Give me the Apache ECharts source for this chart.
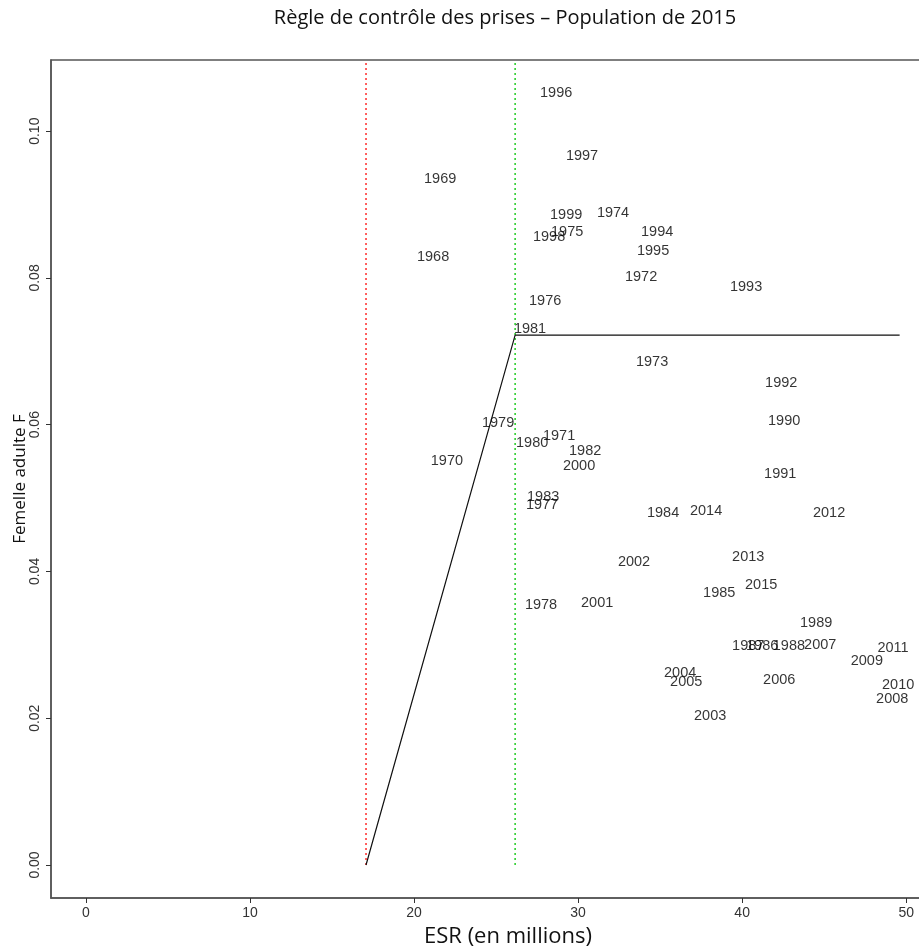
<!DOCTYPE html>
<html>
<head>
<meta charset="UTF-8">
<title>Règle de contrôle des prises</title>
<script src="https://cdn.jsdelivr.net/npm/echarts@6/dist/echarts.min.js"></script>
<style>
  html, body { margin: 0; padding: 0; background: #fff; }
  #chart { width: 919px; height: 947px; }
</style>
</head>
<body>
<div id="chart"></div>
<script>
// years, ESR (millions) and adult female F
var years = ['1968','1969','1970','1971','1972','1973','1974','1975','1976','1977',
             '1978','1979','1980','1981','1982','1983','1984','1985','1986','1987',
             '1988','1989','1990','1991','1992','1993','1994','1995','1996','1997',
             '1998','1999','2000','2001','2002','2003','2004','2005','2006','2007',
             '2008','2009','2010','2011','2012','2013','2014','2015'];
var esr = [21.16, 21.59, 22.0, 28.84, 33.84, 34.51, 32.13, 29.33, 27.99, 27.8,
           27.74, 25.12, 27.2, 27.07, 30.43, 27.87, 35.18, 38.6, 41.22, 40.37,
           42.85, 44.51, 42.56, 42.32, 42.38, 40.24, 34.82, 34.57, 28.66, 30.24,
           28.23, 29.27, 30.06, 31.16, 33.41, 38.05, 36.22, 36.59, 42.26, 44.76,
           49.15, 47.6, 49.51, 49.2, 45.3, 40.37, 37.8, 41.16];
var fAdult = [0.0828, 0.0935, 0.0550, 0.0584, 0.0801, 0.0685, 0.0888, 0.0863, 0.0768, 0.0490,
              0.0354, 0.0602, 0.0575, 0.0730, 0.0564, 0.0501, 0.0480, 0.0371, 0.0298, 0.0298,
              0.0298, 0.0330, 0.0605, 0.0533, 0.0657, 0.0787, 0.0862, 0.0837, 0.1052, 0.0966,
              0.0856, 0.0886, 0.0544, 0.0357, 0.0413, 0.0203, 0.0262, 0.0249, 0.0252, 0.0300,
              0.0226, 0.0278, 0.0245, 0.0296, 0.0480, 0.0420, 0.0482, 0.0381];

// control rule reference points
var lrp = 17.07;      // limit reference point (red)
var usr = 26.16;      // upper stock reference (green)
var fRef = 0.0722;    // removal reference
var esrEnd = 49.6;

var xTicks = [0, 10, 20, 30, 40, 50];
var yTicks = [0, 0.02, 0.04, 0.06, 0.08, 0.10];

var pts = years.map(function (y, i) { return [esr[i], fAdult[i], y]; });

var chart = echarts.init(document.getElementById('chart'));

var option = {
  animation: false,
  backgroundColor: '#fff',
  title: {
    text: 'Règle de contrôle des prises – Population de 2015',
    left: 500, top: 3, textAlign: 'center',
    textStyle: { fontFamily: 'Open Sans', fontSize: 20, fontWeight: 'normal', color: '#111' }
  },
  grid: {
    left: 51, top: 60, height: 838, width: 888,
    containLabel: false, outerBoundsMode: 'none',
    show: true, borderColor: '#555', borderWidth: 1.5, backgroundColor: 'transparent'
  },
  xAxis: {
    type: 'value', min: -2.134, max: 52,
    name: 'ESR (en millions)', nameLocation: 'middle', nameGap: 28, nameMoveOverlap: false,
    nameTextStyle: { fontFamily: 'Open Sans', fontSize: 22, color: '#111', padding: [0, 0, 0, 26] },
    splitLine: { show: false },
    axisLine: { show: true, onZero: false, lineStyle: { color: '#555', width: 1.5 } },
    axisTick: { show: true, length: 5, customValues: xTicks, lineStyle: { color: '#333' } },
    axisLabel: { customValues: xTicks, margin: 8, color: '#333',
                 fontFamily: 'Liberation Sans Narrow, Liberation Sans', fontSize: 14 }
  },
  yAxis: {
    type: 'value', min: -0.0045, max: 0.1097,
    name: 'Femelle adulte F', nameLocation: 'middle', nameGap: 22, nameRotate: 90,
    nameMoveOverlap: false,
    nameTextStyle: { fontFamily: 'Open Sans', fontSize: 17, color: '#111' },
    splitLine: { show: false },
    axisLine: { show: true, onZero: false, lineStyle: { color: '#555', width: 1.5 } },
    axisTick: { show: true, length: 5, customValues: yTicks, lineStyle: { color: '#333' } },
    axisLabel: { customValues: yTicks, margin: 9, rotate: 90, color: '#333',
                 fontFamily: 'Liberation Sans Narrow, Liberation Sans', fontSize: 14,
                 formatter: function (v) { return v.toFixed(2); } }
  },
  series: [
    {
      type: 'line', symbol: 'none', silent: true,
      data: [[lrp, 0], [lrp, 0.1097]],
      lineStyle: { color: '#ff2a2a', width: 1.5, type: [2, 3] }
    },
    {
      type: 'line', symbol: 'none', silent: true,
      data: [[usr, 0], [usr, 0.1097]],
      lineStyle: { color: '#22cc22', width: 1.5, type: [2, 3] }
    },
    {
      type: 'line', symbol: 'none', silent: true,
      data: [[lrp, 0], [usr, fRef], [esrEnd, fRef]],
      lineStyle: { color: '#111', width: 1.2 }
    },
    {
      type: 'scatter', symbolSize: 1, silent: true,
      itemStyle: { color: 'rgba(0,0,0,0)' },
      data: pts,
      label: {
        show: true, position: 'inside',
        formatter: function (p) { return p.data[2]; },
        fontFamily: 'Liberation Sans', fontSize: 14.5, color: '#000'
      }
    }
  ]
};

chart.setOption(option);
</script>
</body>
</html>
